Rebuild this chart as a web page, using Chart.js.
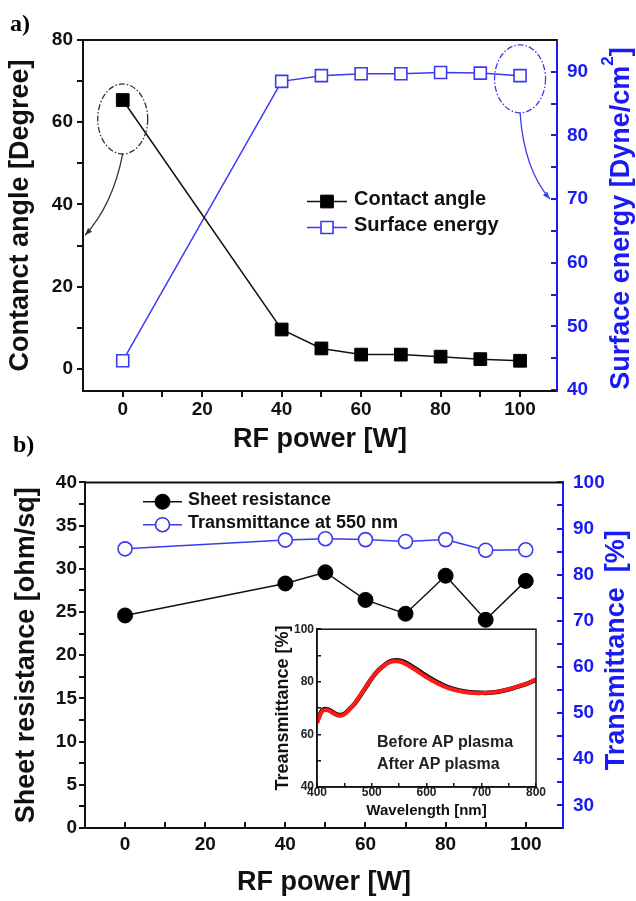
<!DOCTYPE html>
<html>
<head>
<meta charset="utf-8">
<script src="https://cdn.jsdelivr.net/npm/chart.js@4.4.1/dist/chart.umd.min.js"></script>
<style>
  html, body { margin: 0; padding: 0; background: #fff; }
  #page { position: relative; width: 636px; height: 901px; overflow: hidden; }
  canvas { position: absolute; }
  .tag { position: absolute; font: bold 24px "Liberation Serif", "Times New Roman", serif; line-height: 1; color: #000; }
  .note { position: absolute; font: bold 16px "Liberation Sans", Arial, sans-serif; line-height: 22px; color: #222; }
</style>
</head>
<body>
<div id="page">
  <canvas id="chartA" width="636" height="460" style="left:0;top:0"></canvas>
  <canvas id="chartB" width="636" height="446" style="left:0;top:455px"></canvas>
  <canvas id="inset" width="290" height="215" style="left:270px;top:615px"></canvas>
  <div class="tag" style="left:10px;top:11px">a)</div>
  <div class="tag" style="left:13px;top:432px">b)</div>
  <div class="note" style="left:377px;top:731px">Before AP plasma<br>After AP plasma</div>
</div>
<script>
// ---- data (a) ----
const powerA = [0, 40, 50, 60, 70, 80, 90, 100];
const contactAngle = [65.4, 9.6, 5.0, 3.5, 3.5, 3.0, 2.4, 2.0];
const surfaceEnergy = [44.6, 88.5, 89.4, 89.7, 89.7, 89.9, 89.8, 89.4];

// ---- data (b) ----
const powerB = [0, 40, 50, 60, 70, 80, 90, 100];
const sheetResistance = [24.6, 28.3, 29.6, 26.4, 24.8, 29.2, 24.1, 28.6];
const transmittance550 = [85.6, 87.5, 87.8, 87.6, 87.2, 87.6, 85.3, 85.4];

// ---- data (inset) ----
const wavelength = [400, 410, 420, 430, 440, 450, 460, 470, 480, 490, 500, 510, 520, 530, 540, 550, 560, 580, 600, 620, 640, 660, 680, 700, 720, 740, 760, 780, 800];
const transBefore = [64.8, 69.3, 69.5, 68.3, 67.4, 67.8, 69.8, 72.0, 75.0, 78.2, 81.3, 83.9, 85.8, 87.4, 88.1, 88.1, 87.5, 85.0, 82.2, 79.8, 77.9, 76.7, 76.0, 75.8, 75.9, 76.6, 77.7, 79.0, 80.8];
const transAfter = [64.3, 68.9, 69.2, 68.0, 67.1, 67.6, 69.7, 72.1, 75.2, 78.4, 81.4, 83.9, 85.7, 87.2, 87.8, 87.7, 87.0, 84.5, 81.7, 79.4, 77.6, 76.5, 75.8, 75.7, 75.9, 76.7, 77.8, 79.1, 80.9];

// ---- tick labels ----
const powerTicks = [0, 20, 40, 60, 80, 100];
const angleTicks = [0, 20, 40, 60, 80];
const energyTicks = [40, 50, 60, 70, 80, 90];
const resistanceTicks = [0, 5, 10, 15, 20, 25, 30, 35, 40];
const transTicks = [30, 40, 50, 60, 70, 80, 90, 100];
const insetXTicks = [400, 500, 600, 700, 800];
const insetYTicks = [40, 60, 80, 100];

const FONT = "'Liberation Sans', Arial, sans-serif";
const BLACK = '#111';
const BLUE = '#1a1af5';
const LINE_BLUE = '#3a3aee';
Chart.defaults.font.family = FONT;

function range(from, to, step) {
  const out = [];
  for (let v = from; v <= to + 1e-9; v += step) out.push(Math.round(v * 100) / 100);
  return out;
}
function setTicks(list) { return s => { s.ticks = list.map(v => ({ value: v })); }; }
function onlyMajor(major) { return v => major.includes(v) ? String(v) : ''; }
function xy(xs, ys) { return xs.map((x, i) => ({ x: x, y: ys[i] })); }

const tickFont = { family: FONT, size: 19, weight: 'bold' };
const titleFont = { family: FONT, size: 27, weight: 'bold' };

// top (and optional full) border of the plot box
const frame = {
  id: 'frame',
  afterDraw(chart, args, opts) {
    const { ctx, chartArea: a } = chart;
    ctx.save();
    ctx.strokeStyle = opts.color;
    ctx.lineWidth = opts.width;
    if (opts.box) {
      ctx.strokeRect(a.left, a.top, a.right - a.left, a.bottom - a.top);
    } else {
      ctx.beginPath();
      ctx.moveTo(a.left, a.top);
      ctx.lineTo(a.right, a.top);
      ctx.stroke();
    }
    ctx.restore();
  }
};

// legend drawn as line + marker + text, like the origin plot
const lineLegend = {
  id: 'lineLegend',
  afterDatasetsDraw(chart, args, opts) {
    const { ctx, chartArea } = chart;
    ctx.save();
    ctx.font = opts.font;
    ctx.textBaseline = 'middle';
    chart.data.datasets.forEach((ds, i) => {
      const y = chartArea.top + opts.top + i * opts.rowHeight;
      const x0 = chartArea.left + opts.left;
      const x1 = x0 + opts.lineLength;
      ctx.strokeStyle = ds.borderColor;
      ctx.lineWidth = ds.borderWidth;
      ctx.beginPath();
      ctx.moveTo(x0, y);
      ctx.lineTo(x1, y);
      ctx.stroke();
      ctx.fillStyle = ds.pointBackgroundColor;
      ctx.strokeStyle = ds.pointBorderColor;
      ctx.lineWidth = ds.pointBorderWidth;
      Chart.helpers.drawPoint(ctx, { pointStyle: ds.pointStyle, radius: ds.pointRadius, rotation: 0, borderWidth: ds.pointBorderWidth }, (x0 + x1) / 2, y);
      ctx.fillStyle = opts.color;
      ctx.fillText(ds.label, x1 + opts.gap, y - 2);
    });
    ctx.restore();
  }
};

// right hand axis title, reading bottom to top; parts allow a superscript.
// config kept in a closure (plugin option proxies mangle arrays of objects)
function sideTitle(cfg) {
  return {
    id: 'sideTitle',
    afterDraw(chart) {
      const { ctx, chartArea } = chart;
      ctx.save();
      ctx.translate(cfg.x, (chartArea.top + chartArea.bottom) / 2 + cfg.dy);
      ctx.rotate(-Math.PI / 2);
      ctx.fillStyle = cfg.color;
      ctx.textAlign = 'left';
      ctx.textBaseline = 'middle';
      let total = 0;
      cfg.parts.forEach(p => { ctx.font = p.font; total += ctx.measureText(p.text).width; });
      let x = -total / 2;
      cfg.parts.forEach(p => {
        ctx.font = p.font;
        ctx.fillText(p.text, x, p.shift);
        x += ctx.measureText(p.text).width;
      });
      ctx.restore();
    }
  };
}

// dash-dot ellipses with curved arrows pointing to their axis
const callouts = {
  id: 'callouts',
  afterDatasetsDraw(chart, args, opts) {
    const { ctx, chartArea, scales } = chart;
    opts.items.forEach(it => {
      const cx = scales.x.getPixelForValue(it.x);
      const cy = scales[it.axis].getPixelForValue(it.y);
      ctx.save();
      ctx.strokeStyle = it.color;
      ctx.fillStyle = it.color;
      ctx.lineWidth = 1.3;
      ctx.setLineDash([6, 2, 1.5, 2]);
      ctx.beginPath();
      ctx.ellipse(cx, cy, it.rx, it.ry, 0, 0, Math.PI * 2);
      ctx.stroke();
      ctx.setLineDash([]);
      const sx = cx, sy = cy + it.ry;
      const ex = it.axis === 'y' ? chartArea.left + 2 : chartArea.right - 7;
      const ey = scales[it.axis].getPixelForValue(it.target);
      const qx = sx + it.bend[0], qy = sy + it.bend[1];
      ctx.beginPath();
      ctx.moveTo(sx, sy);
      ctx.quadraticCurveTo(qx, qy, ex, ey);
      ctx.stroke();
      const ang = Math.atan2(ey - qy, ex - qx);
      ctx.beginPath();
      ctx.moveTo(ex, ey);
      ctx.lineTo(ex - 8 * Math.cos(ang - 0.35), ey - 8 * Math.sin(ang - 0.35));
      ctx.lineTo(ex - 8 * Math.cos(ang + 0.35), ey - 8 * Math.sin(ang + 0.35));
      ctx.closePath();
      ctx.fill();
      ctx.restore();
    });
  }
};

// ---------------- chart (a) ----------------
new Chart(document.getElementById('chartA'), {
  type: 'line',
  data: {
    datasets: [
      {
        label: 'Contact angle', data: xy(powerA, contactAngle), yAxisID: 'y',
        borderColor: BLACK, borderWidth: 1.5,
        pointStyle: 'rect', pointRadius: 9, pointBackgroundColor: '#000', pointBorderColor: '#000', pointBorderWidth: 1
      },
      {
        label: 'Surface energy', data: xy(powerA, surfaceEnergy), yAxisID: 'y2',
        borderColor: LINE_BLUE, borderWidth: 1.5,
        pointStyle: 'rect', pointRadius: 8.5, pointBackgroundColor: '#fff', pointBorderColor: LINE_BLUE, pointBorderWidth: 1.6
      }
    ]
  },
  options: {
    responsive: false, animation: false, events: [],
    layout: { padding: { top: 40, left: 0, right: 0, bottom: 0 } },
    plugins: {
      legend: { display: false }, tooltip: { enabled: false },
      frame: { color: BLACK, width: 2 },
      lineLegend: { top: 161.5, left: 224, lineLength: 40, gap: 7, rowHeight: 26, font: 'bold 20px ' + FONT, color: BLACK },
      callouts: {
        items: [
          { x: 0, y: 60.8, axis: 'y', rx: 25, ry: 35, target: 32.5, bend: [-10, 51], color: '#333' },
          { x: 100, y: 88.9, axis: 'y2', rx: 25.5, ry: 34, target: 70, bend: [4, 57], color: LINE_BLUE }
        ]
      }
    },
    scales: {
      x: {
        type: 'linear', position: 'bottom', min: -10, max: 109.3,
        afterBuildTicks: setTicks(range(0, 100, 10)),
        afterFit: s => { s.height = 69; },
        ticks: { font: tickFont, color: BLACK, padding: 1, maxRotation: 0, autoSkip: false, callback: onlyMajor(powerTicks) },
        grid: { drawOnChartArea: false, drawTicks: true, tickLength: 6, color: BLACK, lineWidth: 2 },
        border: { display: true, color: BLACK, width: 2 },
        title: { display: true, text: 'RF power [W]', font: titleFont, color: BLACK, padding: { top: 0, bottom: 4 } }
      },
      y: {
        type: 'linear', position: 'left', min: -5.35, max: 80,
        afterBuildTicks: setTicks(range(0, 80, 10)),
        afterFit: s => { s.width = 83; },
        ticks: { font: tickFont, color: BLACK, padding: 4, autoSkip: false, callback: onlyMajor(angleTicks) },
        grid: { drawOnChartArea: false, drawTicks: true, tickLength: 6, color: BLACK, lineWidth: 2 },
        border: { display: true, color: BLACK, width: 2 },
        title: { display: true, text: 'Contanct angle [Degree]', font: titleFont, color: BLACK, padding: { top: 4, bottom: 0 } }
      },
      y2: {
        type: 'linear', position: 'right', min: 39.85, max: 95,
        afterBuildTicks: setTicks(range(40, 90, 5)),
        afterFit: s => { s.width = 79; },
        ticks: { font: tickFont, color: BLUE, padding: 16, autoSkip: false, callback: onlyMajor(energyTicks) },
        grid: { drawOnChartArea: false, drawTicks: true, tickLength: -6, color: BLUE, lineWidth: 2 },
        border: { display: true, color: BLUE, width: 2 }
      }
    }
  },
  plugins: [frame, lineLegend, callouts, sideTitle({
    x: 622, dy: 3, color: BLUE,
    parts: [
      { text: 'Surface energy [Dyne/cm', font: 'bold 27px ' + FONT, shift: 0 },
      { text: '2', font: 'bold 17px ' + FONT, shift: -14 },
      { text: ']', font: 'bold 27px ' + FONT, shift: 0 }
    ]
  })]
});

// ---------------- chart (b) ----------------
new Chart(document.getElementById('chartB'), {
  type: 'line',
  data: {
    datasets: [
      {
        label: 'Sheet resistance', data: xy(powerB, sheetResistance), yAxisID: 'y',
        borderColor: BLACK, borderWidth: 1.5,
        pointStyle: 'circle', pointRadius: 7.5, pointBackgroundColor: '#000', pointBorderColor: '#000', pointBorderWidth: 1
      },
      {
        label: 'Transmittance at 550 nm', data: xy(powerB, transmittance550), yAxisID: 'y2',
        borderColor: LINE_BLUE, borderWidth: 1.5,
        pointStyle: 'circle', pointRadius: 7, pointBackgroundColor: '#fff', pointBorderColor: LINE_BLUE, pointBorderWidth: 1.6
      }
    ]
  },
  options: {
    responsive: false, animation: false, events: [],
    layout: { padding: { top: 22, left: 0, right: 0, bottom: 0 } },
    plugins: {
      legend: { display: false }, tooltip: { enabled: false },
      frame: { color: BLACK, width: 2 },
      lineLegend: { top: 19.3, left: 58, lineLength: 39, gap: 6, rowHeight: 23, font: 'bold 18px ' + FONT, color: BLACK }
    },
    scales: {
      x: {
        type: 'linear', position: 'bottom', min: -10, max: 109.3,
        afterBuildTicks: setTicks(range(0, 100, 10)),
        afterFit: s => { s.height = 73; },
        ticks: { font: tickFont, color: BLACK, padding: 11.6, maxRotation: 0, autoSkip: false, callback: onlyMajor(powerTicks) },
        grid: { drawOnChartArea: false, drawTicks: true, tickLength: -6, color: BLACK, lineWidth: 2 },
        border: { display: true, color: BLACK, width: 2 },
        title: { display: true, text: 'RF power [W]', font: titleFont, color: BLACK, padding: { top: 0, bottom: 2.3 } }
      },
      y: {
        type: 'linear', position: 'left', min: 0, max: 40,
        afterBuildTicks: setTicks(range(0, 40, 2.5)),
        afterFit: s => { s.width = 85; },
        ticks: { font: tickFont, color: BLACK, padding: 2, autoSkip: false, callback: onlyMajor(resistanceTicks) },
        grid: { drawOnChartArea: false, drawTicks: true, tickLength: 6, color: BLACK, lineWidth: 2 },
        border: { display: true, color: BLACK, width: 2 },
        title: { display: true, text: 'Sheet resistance [ohm/sq]', font: titleFont, color: BLACK, padding: { top: 10, bottom: 0 } }
      },
      y2: {
        type: 'linear', position: 'right', min: 25.1, max: 100,
        afterBuildTicks: setTicks(range(30, 100, 5)),
        afterFit: s => { s.width = 73; },
        ticks: { font: tickFont, color: BLUE, padding: 16, autoSkip: false, callback: onlyMajor(transTicks) },
        grid: { drawOnChartArea: false, drawTicks: true, tickLength: -6, color: BLUE, lineWidth: 2 },
        border: { display: true, color: BLUE, width: 2 }
      }
    }
  },
  plugins: [frame, lineLegend, sideTitle({
    x: 617, dy: -5, color: BLUE,
    parts: [{ text: 'Transmittance  [%]', font: 'bold 27px ' + FONT, shift: 0 }]
  })]
});

// ---------------- inset ----------------
const insetTickFont = { family: FONT, size: 12, weight: 'bold' };
new Chart(document.getElementById('inset'), {
  type: 'line',
  data: {
    datasets: [
      { label: 'Before AP plasma', data: xy(wavelength, transBefore), borderColor: '#111', borderWidth: 4.5, pointRadius: 0, tension: 0.4, order: 2 },
      { label: 'After AP plasma', data: xy(wavelength, transAfter), borderColor: '#ff1a1a', borderWidth: 4, pointRadius: 0, tension: 0.4, order: 1 }
    ]
  },
  options: {
    responsive: false, animation: false, events: [],
    layout: { padding: { top: 11, left: 0, right: 24, bottom: 0 } },
    plugins: {
      legend: { display: false }, tooltip: { enabled: false },
      frame: { color: BLACK, width: 1.5, box: true }
    },
    scales: {
      x: {
        type: 'linear', position: 'bottom', min: 400, max: 800,
        afterBuildTicks: setTicks(range(400, 800, 50)),
        afterFit: s => { s.height = 43; },
        ticks: { font: insetTickFont, color: '#222', padding: 2.6, maxRotation: 0, autoSkip: false, callback: onlyMajor(insetXTicks) },
        grid: { drawOnChartArea: false, drawTicks: true, tickLength: -4, color: BLACK, lineWidth: 1.5 },
        border: { display: true, color: BLACK, width: 1.5 },
        title: { display: true, text: 'Wavelength [nm]', font: { family: FONT, size: 15, weight: 'bold' }, color: '#111', padding: { top: 0, bottom: 10.5 } }
      },
      y: {
        type: 'linear', position: 'left', min: 40, max: 100,
        afterBuildTicks: setTicks(range(40, 100, 10)),
        afterFit: s => { s.width = 47; },
        ticks: { font: insetTickFont, color: '#222', padding: 7, autoSkip: false, callback: onlyMajor(insetYTicks) },
        grid: { drawOnChartArea: false, drawTicks: true, tickLength: -4, color: BLACK, lineWidth: 1.5 },
        border: { display: true, color: BLACK, width: 1.5 },
        title: { display: true, text: 'Treansmittance [%]', font: { family: FONT, size: 18, weight: 'bold' }, color: '#111', padding: { top: 2.2, bottom: 0 } }
      }
    }
  },
  plugins: [frame]
});
</script>
</body>
</html>
